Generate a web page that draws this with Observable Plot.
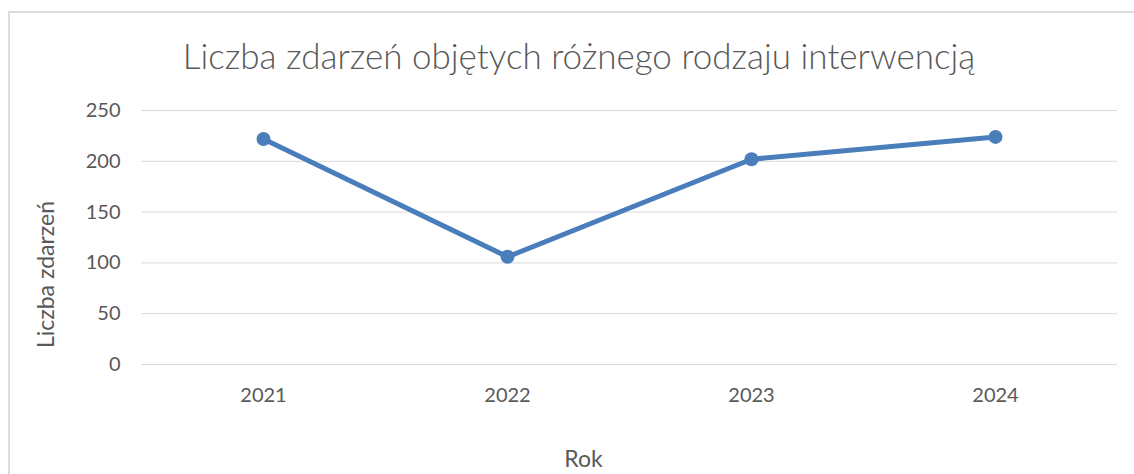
<!DOCTYPE html>
<html>
<head>
<meta charset="utf-8">
<script src="https://cdn.jsdelivr.net/npm/d3@7"></script>
<script src="https://cdn.jsdelivr.net/npm/@observablehq/plot@0.6"></script>
<style>
  html, body { margin: 0; padding: 0; background: #fff; overflow: hidden; }
  #wrap { position: relative; width: 1134px; height: 474px; overflow: hidden; font-family: Lato, "Open Sans", sans-serif; }
  #frame { position: absolute; left: 8px; top: 11px; width: 1200px; height: 520px; border: 2px solid #dcdcdc; box-sizing: border-box; }
  #title { position: absolute; left: 0; width: 1134px; padding-left: 24px; box-sizing: border-box; top: 34px; text-align: center; font-size: 35px; font-weight: 300; color: #595959; white-space: nowrap; line-height: 1.2; }
  #chart { position: absolute; left: 0; top: 90px; }
</style>
</head>
<body>
<div id="wrap">
  <div id="frame"></div>
  <div id="title">Liczba zdarzeń objętych różnego rodzaju interwencją</div>
  <div id="chart"></div>
</div>
<script>
const years = ["2021", "2022", "2023", "2024"];
const counts = [222, 106, 202, 224];
const yTicks = [0, 50, 100, 150, 200, 250];
const xTitle = "Rok";
const yTitle = "Liczba zdarzeń";

const data = years.map((y, i) => ({year: y, count: counts[i]}));
const color = "#4a7ebb";
const textColor = "#595959";

const plot = Plot.plot({
  width: 1134,
  height: 384,
  marginTop: 20,
  marginBottom: 110,
  marginLeft: 141,
  marginRight: 17,
  style: {fontFamily: "Lato, 'Open Sans', sans-serif", fontSize: "20px", color: textColor, background: "transparent", overflow: "visible"},
  x: {type: "point", domain: years, padding: 0.5},
  y: {domain: [0, 250]},
  marks: [
    Plot.gridY(yTicks, {stroke: "#d9d9d9", strokeOpacity: 1, strokeWidth: 1}),
    Plot.axisY(yTicks, {tickSize: 0, tickPadding: 21, fontSize: 20, fill: textColor, label: null}),
    Plot.axisX({tickSize: 0, tickPadding: 23, fontSize: 20, fill: textColor, label: null}),
    Plot.text([yTitle], {text: d => d, frameAnchor: "left", textAnchor: "middle", rotate: -90, dx: -95, dy: 37, fontSize: 23, fill: textColor}),
    Plot.text([xTitle], {text: d => d, frameAnchor: "bottom", textAnchor: "middle", dx: -46, dy: 102, fontSize: 23, fill: textColor}),
    Plot.line(data, {x: "year", y: "count", stroke: color, strokeWidth: 5, strokeLinejoin: "round"}),
    Plot.dot(data, {x: "year", y: "count", fill: color, r: 7, stroke: "none"})
  ]
});
document.getElementById("chart").appendChild(plot);
</script>
</body>
</html>
